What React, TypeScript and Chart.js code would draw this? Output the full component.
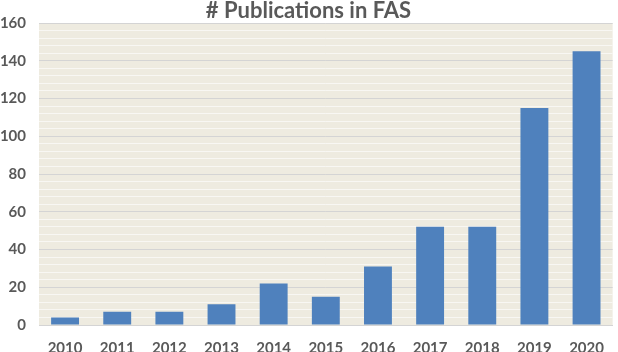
import React, { useEffect, useRef } from "react";
import { Chart, registerables } from "chart.js";

Chart.register(...registerables);

const years = ["2010", "2011", "2012", "2013", "2014", "2015", "2016", "2017", "2018", "2019", "2020"];
const publications = [4, 7, 7, 11, 22, 15, 31, 52, 52, 115, 145];
const titleText = "# Publications in FAS";

const bgPlugin = {
  id: "plotBg",
  beforeDraw(chart: any) {
    const { ctx, chartArea } = chart;
    ctx.save();
    ctx.fillStyle = "#EEEBE0";
    ctx.fillRect(chartArea.left, chartArea.top, chartArea.right - chartArea.left, chartArea.bottom - chartArea.top);
    ctx.restore();
  },
};

export default function App() {
  const ref = useRef<HTMLCanvasElement>(null);
  useEffect(() => {
    const font = "Lato, 'Open Sans', sans-serif";
    const chart = new Chart(ref.current!, {
      type: "bar",
      data: {
        labels: years,
        datasets: [
          {
            data: publications,
            backgroundColor: "#4F81BD",
            borderWidth: 0,
            barPercentage: 0.535,
            categoryPercentage: 1,
          },
        ],
      },
      options: {
        animation: false,
        responsive: false,
        maintainAspectRatio: false,
        layout: { padding: { left: 0, right: 1, top: 0, bottom: 0 } },
        plugins: {
          legend: { display: false },
          tooltip: { enabled: false },
          title: {
            display: true,
            text: titleText,
            color: "#595959",
            font: { family: font, size: 22, weight: "bold", lineHeight: 1 },
            padding: { top: 0, bottom: 1 },
          },
        },
        scales: {
          x: {
            afterFit: (s: any) => {
              s.height = 27;
            },
            grid: { display: false, drawTicks: false },
            border: { display: true, color: "#D4D4D4", width: 1 },
            ticks: {
              color: "#595959",
              font: { family: font, size: 15, weight: "bold" },
              padding: 14,
              maxRotation: 0,
            },
          },
          y: {
            afterFit: (s: any) => {
              s.width = 39;
            },
            min: 0,
            max: 160,
            grid: {
              drawTicks: false,
              color: (c: any) => (c.tick && c.tick.value % 20 === 0 ? "#D4D4D4" : "#F8F7F3"),
              lineWidth: 1,
            },
            border: { display: false },
            ticks: {
              stepSize: 4,
              autoSkip: false,
              color: "#595959",
              font: { family: font, size: 15, weight: "bold" },
              padding: 13,
              callback: (v: any) => (Number(v) % 20 === 0 ? String(v) : ""),
            },
          },
        },
      },
      plugins: [bgPlugin],
    });
    return () => chart.destroy();
  }, []);
  return (
    <div style={{ position: "fixed", left: 0, top: 0, width: 618, height: 352, background: "#fff" }}>
      <canvas ref={ref} width={618} height={352} style={{ width: 618, height: 352 }} />
    </div>
  );
}
